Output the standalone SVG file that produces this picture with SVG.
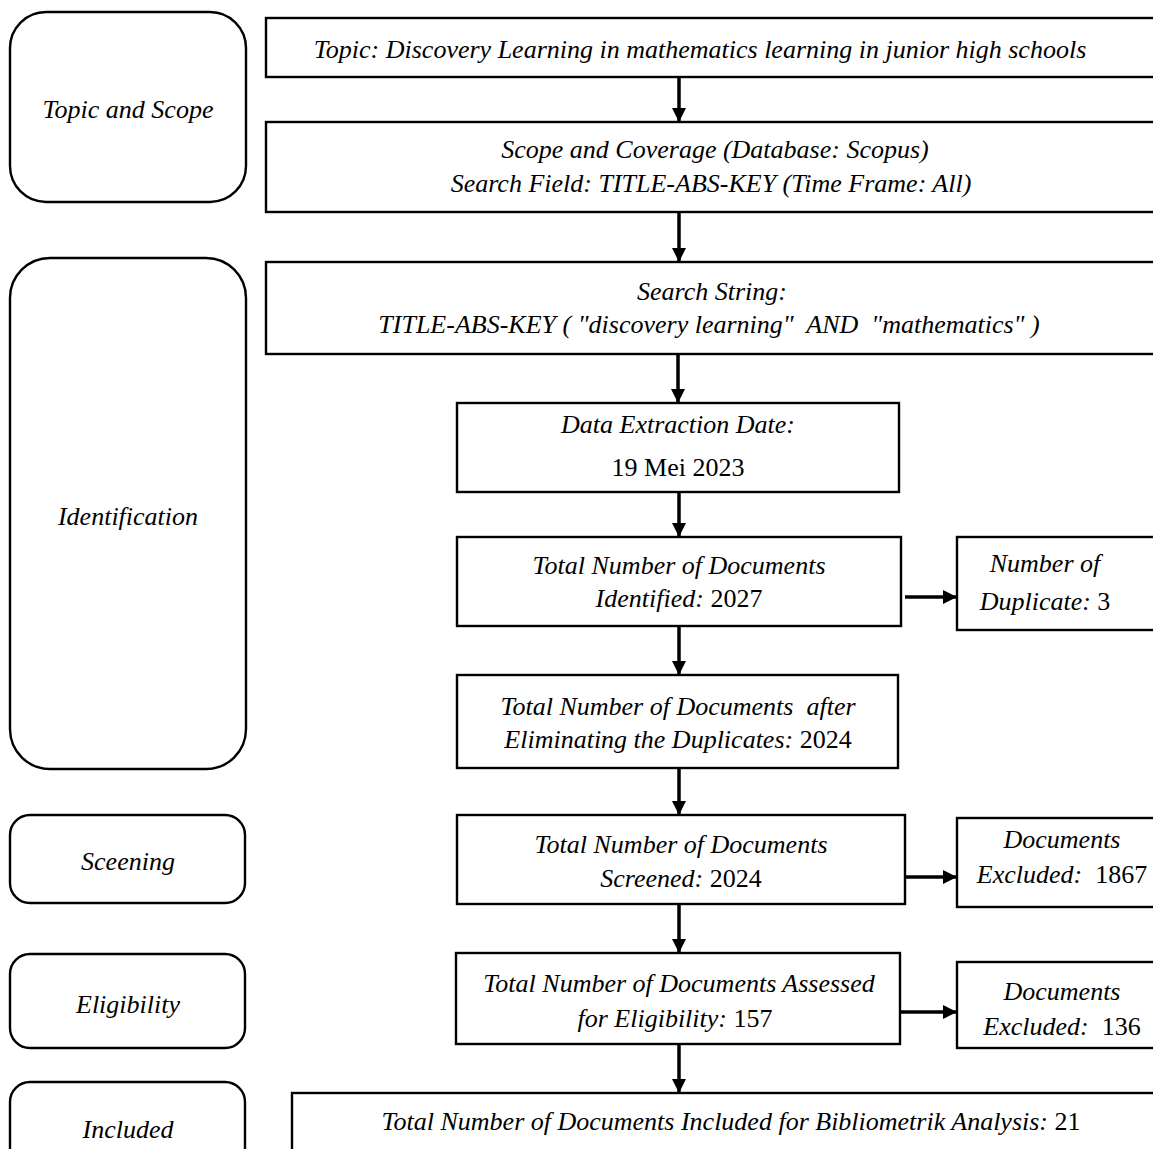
<svg xmlns="http://www.w3.org/2000/svg" width="1153" height="1149" viewBox="0 0 1153 1149">
<style>
.b{fill:#fff;stroke:#000;stroke-width:2.4}
.t{font-family:"Liberation Serif","Times New Roman",serif;font-style:italic;font-size:26px;fill:#000;text-anchor:middle}
.n{font-style:normal}
.c{stroke:#000;stroke-width:3.5;fill:none}
</style>
<defs>
<marker id="ah" markerUnits="userSpaceOnUse" markerWidth="16" markerHeight="16" refX="14" refY="8" orient="auto">
<path d="M0,1 L14,8 L0,15 Z" fill="#000"/>
</marker>
</defs>
<rect width="1153" height="1149" fill="#fff"/>
<g id="stage-topic"><rect class="b" x="10" y="12" width="236" height="190" rx="36"/><text class="t" x="128" y="118">Topic and Scope</text></g>
<g id="stage-identification"><rect class="b" x="10" y="258" width="236" height="511" rx="40"/><text class="t" x="128" y="525">Identification</text></g>
<g id="stage-screening"><rect class="b" x="10" y="815" width="235" height="88" rx="20"/><text class="t" x="128" y="870">Sceening</text></g>
<g id="stage-eligibility"><rect class="b" x="10" y="954" width="235" height="94" rx="20"/><text class="t" x="128" y="1013">Eligibility</text></g>
<g id="stage-included"><rect class="b" x="10" y="1082" width="235" height="90" rx="20"/><text class="t" x="128" y="1138">Included</text></g>

<g id="topic"><rect class="b" x="266" y="18" width="900" height="59"/><text class="t" x="700" y="58">Topic: Discovery Learning in mathematics learning in junior high schools</text></g>
<g id="scope"><rect class="b" x="266" y="122" width="900" height="90"/><text class="t" x="715" y="158">Scope and Coverage (Database: Scopus)</text><text class="t" x="711" y="192">Search Field: TITLE-ABS-KEY (Time Frame: All)</text></g>
<g id="search"><rect class="b" x="266" y="262" width="900" height="92"/><text class="t" x="712" y="300">Search String:</text><text class="t" x="709" y="333" xml:space="preserve">TITLE-ABS-KEY ( "discovery learning"  AND  "mathematics" )</text></g>
<g id="date"><rect class="b" x="457" y="403" width="442" height="89"/><text class="t" x="678" y="433">Data Extraction Date:</text><text class="t n" x="678" y="476">19 Mei 2023</text></g>
<g id="identified"><rect class="b" x="457" y="537" width="444" height="89"/><text class="t" x="679" y="574">Total Number of Documents</text><text class="t" x="679" y="607">Identified: <tspan class="n">2027</tspan></text></g>
<g id="duplicate"><rect class="b" x="957" y="537" width="210" height="93"/><text class="t" x="1045" y="572">Number of</text><text class="t" x="1045" y="610">Duplicate: <tspan class="n">3</tspan></text></g>
<g id="dedup"><rect class="b" x="457" y="675" width="441" height="93"/><text class="t" x="678" y="715" xml:space="preserve">Total Number of Documents  after</text><text class="t" x="678" y="748">Eliminating the Duplicates: <tspan class="n">2024</tspan></text></g>
<g id="screened"><rect class="b" x="457" y="815" width="448" height="89"/><text class="t" x="681" y="853">Total Number of Documents</text><text class="t" x="681" y="887">Screened: <tspan class="n">2024</tspan></text></g>
<g id="excluded1"><rect class="b" x="957" y="818" width="210" height="89"/><text class="t" x="1062" y="848">Documents</text><text class="t" x="1062" y="883" xml:space="preserve">Excluded:  <tspan class="n">1867</tspan></text></g>
<g id="assessed"><rect class="b" x="456" y="953" width="444" height="91"/><text class="t" x="679" y="992">Total Number of Documents Assessed</text><text class="t" x="675" y="1027">for Eligibility: <tspan class="n">157</tspan></text></g>
<g id="excluded2"><rect class="b" x="957" y="962" width="210" height="86"/><text class="t" x="1062" y="1000">Documents</text><text class="t" x="1062" y="1035" xml:space="preserve">Excluded:  <tspan class="n">136</tspan></text></g>
<g id="included"><rect class="b" x="292" y="1093" width="900" height="80"/><text class="t" x="731" y="1130">Total Number of Documents Included for Bibliometrik Analysis: <tspan class="n">21</tspan></text></g>

<g id="connectors" class="c">
<line x1="679" y1="77" x2="679" y2="122" marker-end="url(#ah)"/>
<line x1="679" y1="212" x2="679" y2="262" marker-end="url(#ah)"/>
<line x1="678" y1="354" x2="678" y2="403" marker-end="url(#ah)"/>
<line x1="679" y1="492" x2="679" y2="537" marker-end="url(#ah)"/>
<line x1="679" y1="626" x2="679" y2="675" marker-end="url(#ah)"/>
<line x1="679" y1="768" x2="679" y2="815" marker-end="url(#ah)"/>
<line x1="679" y1="904" x2="679" y2="953" marker-end="url(#ah)"/>
<line x1="679" y1="1044" x2="679" y2="1093" marker-end="url(#ah)"/>
<line x1="905" y1="597" x2="957" y2="597" marker-end="url(#ah)"/>
<line x1="905" y1="877" x2="957" y2="877" marker-end="url(#ah)"/>
<line x1="900" y1="1012" x2="957" y2="1012" marker-end="url(#ah)"/>
</g>
</svg>
